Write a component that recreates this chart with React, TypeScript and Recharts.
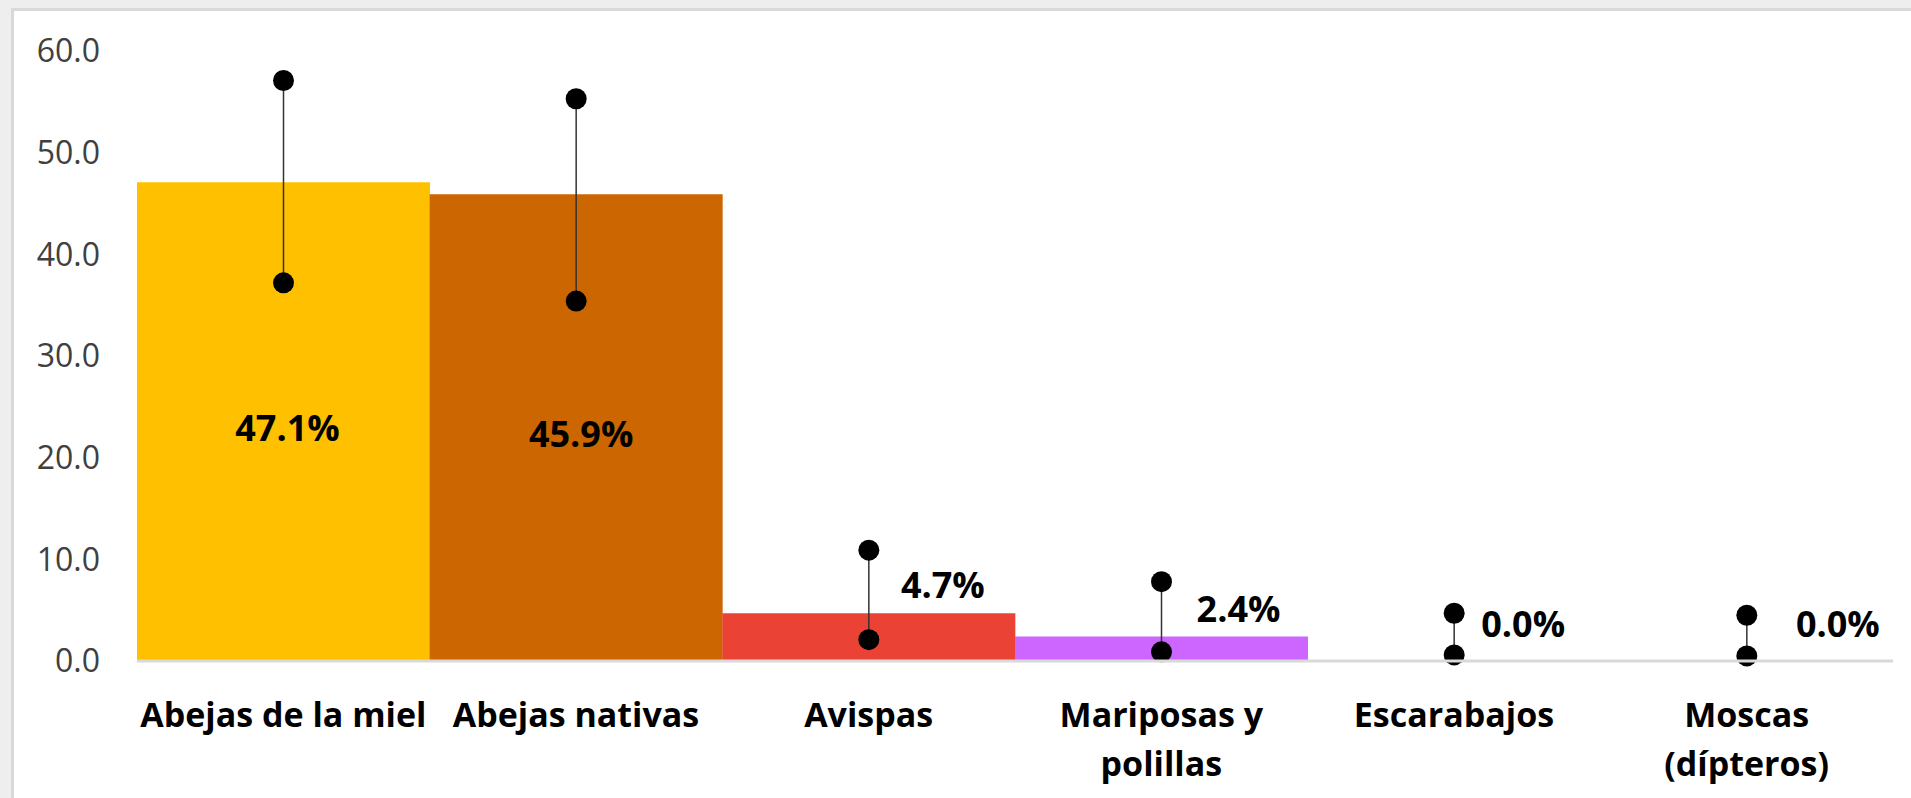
import { ComposedChart, Bar, XAxis, YAxis, Cell, LabelList } from "recharts";

const categories = [
  "Abejas de la miel",
  "Abejas nativas",
  "Avispas",
  "Mariposas y\npolillas",
  "Escarabajos",
  "Moscas\n(dípteros)",
];
const percentages = [47.1, 45.9, 4.7, 2.4, 0.0, 0.0];
const errorLow = [37.2, 35.4, 2.1, 0.9, 0.6, 0.5];
const errorHigh = [57.1, 55.3, 10.9, 7.8, 4.7, 4.5];
const yTicks = [0, 10, 20, 30, 40, 50, 60];

const barColors = ["#FFC000", "#CC6600", "#EA4335", "#CC66FF", "#D9D9D9", "#D9D9D9"];
// where each value label sits relative to the top-centre of its bar
const labelShift = [
  [4, "mid"],
  [5, "mid"],
  [74, -28],
  [77, -28],
  [69, -37],
  [91, -37],
] as const;

const FONT = "'Open Sans', 'Noto Sans', sans-serif";

const data = categories.map((name, i) => ({
  name,
  value: percentages[i],
  err: [errorLow[i], errorHigh[i]],
}));

function CategoryTick(props: any) {
  const { x, y, payload } = props;
  const lines = String(payload.value).split("\n");
  return (
    <text
      x={x}
      y={y + 64}
      textAnchor="middle"
      fontFamily={FONT}
      fontWeight={700}
      fontSize={34}
      fill="#000"
    >
      {lines.map((l, i) => (
        <tspan key={i} x={x} dy={i === 0 ? 0 : 49}>
          {l}
        </tspan>
      ))}
    </text>
  );
}

function ErrorShape(props: any) {
  const { x, y, width, height } = props;
  const cx = x + width / 2;
  const top = Math.min(y, y + height);
  const bottom = Math.max(y, y + height);
  return (
    <g>
      <line x1={cx} y1={top} x2={cx} y2={bottom} stroke="#333" strokeWidth={1.5} />
      <circle cx={cx} cy={top} r={10.5} fill="#000" />
      <circle cx={cx} cy={bottom} r={10.5} fill="#000" />
    </g>
  );
}

function ValueLabel(props: any) {
  const { x, y, width, height, value, index } = props;
  const shift = labelShift[index] ?? [0, -30];
  const cx = x + width / 2 + shift[0];
  const cy = shift[1] === "mid" ? y + height / 2 + 6 : y + (shift[1] as number);
  return (
    <text
      x={cx}
      y={cy}
      dy="0.36em"
      textAnchor="middle"
      fontFamily={FONT}
      fontWeight={700}
      fontSize={36}
      fill="#000"
    >
      {`${Number(value).toFixed(1)}%`}
    </text>
  );
}

export default function App() {
  return (
    <div
      style={{
        position: "absolute",
        left: 0,
        top: 0,
        width: 1911,
        height: 798,
        overflow: "hidden",
        background: "#eeeeee",
      }}
    >
      <div
        style={{
          position: "absolute",
          left: 11,
          top: 8,
          width: 1911,
          height: 798,
          background: "#ffffff",
          borderTop: "3px solid #d9d9d9",
          borderLeft: "3px solid #d9d9d9",
        }}
      />
      <div style={{ position: "absolute", left: 0, top: 0 }}>
        <ComposedChart
          width={1911}
          height={798}
          data={data}
          margin={{ top: 51, right: 18, bottom: 37, left: 0 }}
          barCategoryGap={0}
          barGap={0}
        >
          <XAxis
            dataKey="name"
            height={100}
            interval={0}
            tickLine={false}
            tickSize={0}
            axisLine={{ stroke: "#d9d9d9", strokeWidth: 3 }}
            tick={<CategoryTick />}
          />
          <XAxis dataKey="name" xAxisId="err" hide />
          <YAxis
            width={137}
            domain={[0, 60]}
            ticks={yTicks}
            axisLine={false}
            tickLine={false}
            tickSize={0}
            tickMargin={37}
            tickFormatter={(v: number) => v.toFixed(1)}
            tick={{ fontFamily: FONT, fontSize: 32, fill: "#404040" }}
          />
          <Bar dataKey="value" minPointSize={0.01} isAnimationActive={false}>
            {data.map((_, i) => (
              <Cell key={i} fill={barColors[i]} />
            ))}
            <LabelList dataKey="value" content={<ValueLabel />} />
          </Bar>
          <Bar
            dataKey="err"
            xAxisId="err"
            isAnimationActive={false}
            shape={<ErrorShape />}
          />
        </ComposedChart>
      </div>
    </div>
  );
}
